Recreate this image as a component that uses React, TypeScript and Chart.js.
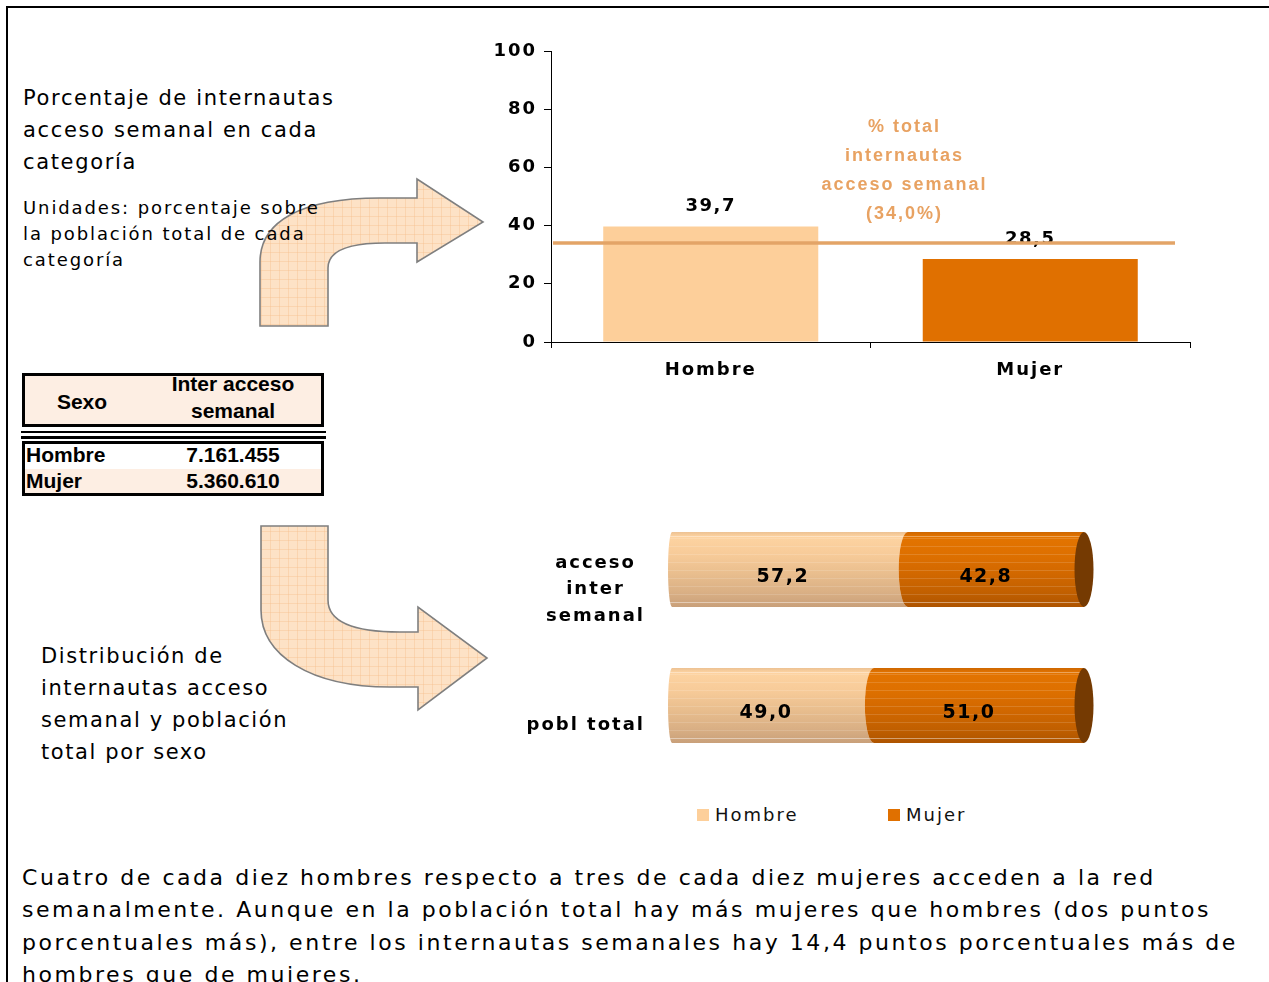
import React, { useEffect, useRef } from 'react';
import { Chart, registerables } from 'chart.js';

Chart.register(...registerables);

// ---------- data ----------
const sexCategories = ['Hombre', 'Mujer'];
const weeklyAccessPct = [39.7, 28.5];
const totalWeeklyPct = 34.0;
const yTicks = [0, 20, 40, 60, 80, 100];

const distCategories = [['acceso', 'inter', 'semanal'], ['pobl total']];
const distHombre = [57.2, 49.0];
const distMujer = [42.8, 51.0];

const tableRows = ['Hombre', 'Mujer'];
const tableValues = ['7.161.455', '5.360.610'];

const annotationLines = ['% total', 'internautas', 'acceso semanal'];

// ---------- styles ----------
const HOMBRE = '#FDCF9A';
const MUJER = '#E07000';
const FONT = '"DejaVu Sans", Verdana, sans-serif';
const ARIAL = '"Liberation Sans", Arial, sans-serif';

const fmt = (v: number) => v.toFixed(1).replace('.', ',');

const spacing = (px: string) => ({
  id: 'letterSpacing',
  beforeUpdate(c: any) { c.ctx.letterSpacing = px; },
  beforeLayout(c: any) { c.ctx.letterSpacing = px; },
  beforeDraw(c: any) { c.ctx.letterSpacing = px; },
});

const topPlugin = {
  id: 'topDecor',
  afterDatasetsDraw(chart: any) {
    const ctx = chart.ctx;
    const meta = chart.getDatasetMeta(0);
    ctx.save();
    ctx.letterSpacing = '1.5px';
    ctx.font = `bold 18px ${FONT}`;
    ctx.fillStyle = '#000';
    ctx.textAlign = 'center';
    ctx.textBaseline = 'middle';
    meta.data.forEach((el: any, i: number) => {
      const { x, y } = el.getProps(['x', 'y'], true);
      ctx.fillText(fmt(weeklyAccessPct[i]), x, y - 20);
    });
    const ys = chart.scales.y.getPixelForValue(totalWeeklyPct);
    const { left, right } = chart.chartArea;
    ctx.strokeStyle = '#E3A467';
    ctx.lineWidth = 3.5;
    ctx.beginPath();
    ctx.moveTo(left + 2, ys);
    ctx.lineTo(right - 15, ys);
    ctx.stroke();
    const xs = chart.scales.x;
    const cx = (xs.getPixelForValue(0) + xs.getPixelForValue(1)) / 2 + 34;
    ctx.font = `bold 18px ${ARIAL}`;
    ctx.letterSpacing = '2px';
    ctx.fillStyle = '#E8A262';
    const lines = [...annotationLines, `(${fmt(totalWeeklyPct)}%)`];
    lines.forEach((t, i) => ctx.fillText(t, cx, ys - 116 + i * 29));
    ctx.restore();
  },
};

const cylinderPlugin = {
  id: 'cylinders',
  beforeDatasetDraw() {
    return false;
  },
  afterDatasetsDraw(chart: any) {
    const ctx = chart.ctx;
    const n = chart.data.datasets.length;
    const stops: Array<Array<[number, string]>> = [
      [[0, '#EDC293'], [0.06, '#FDD3A1'], [0.3, '#F7CB99'], [0.55, '#E9BE8E'], [0.8, '#DAB085'], [1, '#C9A07A']],
      [[0, '#CF6700'], [0.06, '#E37400'], [0.3, '#DE7000'], [0.55, '#D26800'], [0.8, '#C26000'], [1, '#AE5400']],
    ];
    const rxB = 9;
    const rxL = 4;
    for (let d = 0; d < n; d++) {
      const meta = chart.getDatasetMeta(d);
      meta.data.forEach((el: any) => {
        const { x, y, base, height } = el.getProps(['x', 'y', 'base', 'height'], true);
        const top = y - height / 2;
        const bot = y + height / 2;
        const ry = height / 2;
        const x0 = base;
        const x1 = x;
        const last = d === n - 1;
        ctx.save();
        ctx.beginPath();
        ctx.moveTo(x0, top);
        ctx.lineTo(x1, top);
        if (last) {
          ctx.lineTo(x1, bot);
        } else {
          ctx.ellipse(x1, y, rxB, ry, 0, -Math.PI / 2, Math.PI / 2, true);
        }
        ctx.lineTo(x0, bot);
        const rl = d === 0 ? rxL : rxB;
        ctx.ellipse(x0, y, rl, ry, 0, Math.PI / 2, (3 * Math.PI) / 2, false);
        ctx.closePath();
        const g = ctx.createLinearGradient(0, top, 0, bot);
        stops[d].forEach(([o, c]) => g.addColorStop(o, c));
        ctx.fillStyle = g;
        ctx.fill();
        ctx.clip();
        ctx.strokeStyle = 'rgba(255,255,255,0.14)';
        ctx.lineWidth = 1;
        for (let sy = top + 6; sy < bot - 2; sy += 8) {
          ctx.beginPath();
          ctx.moveTo(x0 - 12, Math.round(sy) + 0.5);
          ctx.lineTo(x1 + 12, Math.round(sy) + 0.5);
          ctx.stroke();
        }
        ctx.strokeStyle = 'rgba(255,255,255,0.35)';
        [top + 4, bot - 5].forEach((sy) => {
          ctx.beginPath();
          ctx.moveTo(x0 - 12, Math.round(sy) + 0.5);
          ctx.lineTo(x1 + 12, Math.round(sy) + 0.5);
          ctx.stroke();
        });
        ctx.restore();
        if (last) {
          ctx.save();
          ctx.beginPath();
          ctx.ellipse(x1, y, 9.5, ry, 0, 0, Math.PI * 2);
          ctx.fillStyle = '#753A02';
          ctx.fill();
          ctx.restore();
        }
      });
    }
    // value labels
    ctx.save();
    ctx.letterSpacing = '1.5px';
    ctx.font = `bold 19px ${FONT}`;
    ctx.fillStyle = '#000';
    ctx.textAlign = 'center';
    ctx.textBaseline = 'middle';
    for (let d = 0; d < n; d++) {
      const meta = chart.getDatasetMeta(d);
      const vals = chart.data.datasets[d].data;
      meta.data.forEach((el: any, i: number) => {
        const { x, y, base } = el.getProps(['x', 'y', 'base'], true);
        const dx = d === 0 ? -7 : -10;
        ctx.fillText(fmt(vals[i]), (x + base) / 2 + dx, y + 8);
      });
    }
    ctx.restore();
  },
  afterDraw(chart: any) {
    const ctx = chart.ctx;
    const ysc = chart.scales.y;
    ctx.save();
    ctx.letterSpacing = '2px';
    ctx.font = `bold 18px ${FONT}`;
    ctx.fillStyle = '#000';
    ctx.textAlign = 'center';
    ctx.textBaseline = 'middle';
    const right = chart.chartArea.left - 28;
    distCategories.forEach((lines, i) => {
      const ty = ysc.getPixelForValue(i) + 20;
      const widest = Math.max(...lines.map((l) => ctx.measureText(l).width)) - 2;
      lines.forEach((l, j) => {
        ctx.fillText(l, right - widest / 2, ty + (j - (lines.length - 1) / 2) * 26.5);
      });
    });
    ctx.restore();
  },
};

function TopChart() {
  const ref = useRef<HTMLCanvasElement>(null);
  useEffect(() => {
    const tickFont = { family: FONT, weight: 'bold' as const, size: 18 };
    const chart = new Chart(ref.current as HTMLCanvasElement, {
      type: 'bar',
      data: {
        labels: sexCategories,
        datasets: [
          {
            label: '% internautas acceso semanal',
            data: weeklyAccessPct,
            backgroundColor: [HOMBRE, MUJER],
            barPercentage: 0.673,
            categoryPercentage: 1,
          },
        ],
      },
      options: {
        animation: false,
        responsive: true,
        maintainAspectRatio: false,
        layout: { padding: { left: 0, right: 20, top: 21, bottom: 0 } },
        plugins: { legend: { display: false }, tooltip: { enabled: false } },
        scales: {
          x: {
            grid: { drawOnChartArea: false, tickLength: 6, color: '#000', offset: true },
            border: { color: '#000' },
            ticks: { color: '#000', font: tickFont, padding: 12 },
            afterFit: (s: any) => { s.height = 58; },
          },
          y: {
            min: 0,
            max: 100,
            grid: { drawOnChartArea: false, tickLength: 7, color: '#000' },
            border: { color: '#000' },
            ticks: { color: '#000', font: tickFont, padding: 7 },
            afterBuildTicks: (s: any) => { s.ticks = yTicks.map((v) => ({ value: v })); },
            afterFit: (s: any) => { s.width = 71; },
          },
        },
      } as any,
      plugins: [spacing('2px'), topPlugin],
    });
    return () => chart.destroy();
  }, []);
  return (
    <div style={{ position: 'absolute', left: 480, top: 30, width: 730, height: 370 }}>
      <canvas ref={ref} style={{ display: 'block' }} />
    </div>
  );
}

function BottomChart() {
  const ref = useRef<HTMLCanvasElement>(null);
  useEffect(() => {
    const chart = new Chart(ref.current as HTMLCanvasElement, {
      type: 'bar',
      data: {
        labels: distCategories.map((l) => l.join(' ')),
        datasets: [
          { label: 'Hombre', data: distHombre, backgroundColor: HOMBRE, barPercentage: 0.55, categoryPercentage: 1 },
          { label: 'Mujer', data: distMujer, backgroundColor: MUJER, barPercentage: 0.55, categoryPercentage: 1 },
        ],
      },
      options: {
        animation: false,
        responsive: true,
        maintainAspectRatio: false,
        indexAxis: 'y',
        layout: { padding: { left: 0, right: 36, top: 11.5, bottom: 16.5 } },
        plugins: { legend: { display: false }, tooltip: { enabled: false } },
        scales: {
          x: { stacked: true, min: 0, max: 100, display: false },
          y: {
            stacked: true,
            grid: { display: false, drawTicks: false },
            border: { display: false },
            ticks: { display: false },
            afterFit: (s: any) => { s.width = 172; },
          },
        },
      } as any,
      plugins: [spacing('2px'), cylinderPlugin],
    });
    return () => chart.destroy();
  }, []);
  return (
    <div style={{ position: 'absolute', left: 500, top: 490, width: 620, height: 300 }}>
      <canvas ref={ref} style={{ display: 'block' }} />
    </div>
  );
}

const upperArrow =
  'M260 326 L260 262 C260 222 300 198 380 198 L417 198 L417 179 L483 222 L417 262 L417 243 L385 243 C345 243 328 252 328 268 L328 326 Z';
const lowerArrow =
  'M261 526 L328 526 L328 600 C328 622 355 632 400 632 L418 632 L418 607 L487 658 L418 710 L418 687 L390 687 C310 687 261 655 261 610 Z';

const abs = (s: React.CSSProperties): React.CSSProperties => ({ position: 'absolute', ...s });

export default function App() {
  const tableFont: React.CSSProperties = { fontFamily: ARIAL, fontWeight: 'bold', fontSize: 21, lineHeight: '24px', color: '#000', whiteSpace: 'nowrap' };
  const centered = (x: number, y: number): React.CSSProperties => abs({ left: x, top: y, transform: 'translate(-50%, -50%)' });
  return (
    <div style={abs({ left: 0, top: 0, width: 1269, height: 982, overflow: 'hidden', background: '#fff', fontFamily: FONT, color: '#000' })}>
      <div style={abs({ left: 6, top: 6, width: 1400, height: 1100, border: '2px solid #000' })} />

      <svg width={1269} height={982} style={abs({ left: 0, top: 0 })}>
        <defs>
          <pattern id="gridFill" width="9" height="9" patternUnits="userSpaceOnUse">
            <rect width="9" height="9" fill="#FDE2C6" />
            <path d="M9 0H0V9" fill="none" stroke="#F6BE8C" strokeWidth="0.8" />
          </pattern>
        </defs>
        <path d={upperArrow} fill="url(#gridFill)" stroke="#7F7F7F" strokeWidth="1.6" />
        <path d={lowerArrow} fill="url(#gridFill)" stroke="#7F7F7F" strokeWidth="1.6" />
      </svg>

      <div style={abs({ left: 23, top: 82, fontSize: 21, lineHeight: '32px', letterSpacing: '1.65px', whiteSpace: 'nowrap' })}>
        Porcentaje de internautas<br />acceso semanal en cada<br />categoría
      </div>
      <div style={abs({ left: 23, top: 195, fontSize: 18, lineHeight: '26px', letterSpacing: '1.9px', whiteSpace: 'nowrap' })}>
        Unidades: porcentaje sobre<br />la población total de cada<br />categoría
      </div>
      <div style={abs({ left: 41, top: 640, fontSize: 21, lineHeight: '32px', letterSpacing: '1.6px', whiteSpace: 'nowrap' })}>
        Distribución de<br />internautas acceso<br />semanal y población<br />total por sexo
      </div>
      <div style={abs({ left: 22, top: 862, fontSize: 22, lineHeight: '32.4px', letterSpacing: '2.55px', whiteSpace: 'nowrap' })}>
        Cuatro de cada diez hombres respecto a tres de cada diez mujeres acceden a la red<br />
        semanalmente. Aunque en la población total hay más mujeres que hombres (dos puntos<br />
        porcentuales más), entre los internautas semanales hay 14,4 puntos porcentuales más de<br />
        hombres que de mujeres.
      </div>

      {/* table */}
      <div style={abs({ left: 22, top: 373, width: 302, height: 54, boxSizing: 'border-box', border: '3px solid #000', background: '#FDEEE3' })} />
      <div style={{ ...tableFont, ...centered(82, 402) }}>Sexo</div>
      <div style={{ ...tableFont, ...centered(233, 384) }}>Inter acceso</div>
      <div style={{ ...tableFont, ...centered(233, 411) }}>semanal</div>
      <div style={abs({ left: 21, top: 430.5, width: 305, height: 2.8, background: '#000' })} />
      <div style={abs({ left: 21, top: 435.8, width: 305, height: 2.8, background: '#000' })} />
      <div style={abs({ left: 22, top: 441, width: 302, height: 55, boxSizing: 'border-box', border: '3px solid #000', background: '#fff', overflow: 'hidden' })}>
        <div style={abs({ left: 0, top: 25, width: 296, height: 30, background: '#FDEEE3' })} />
      </div>
      {tableRows.map((r, i) => (
        <React.Fragment key={r}>
          <div style={{ ...tableFont, ...abs({ left: 26, top: 455 + i * 26, transform: 'translateY(-50%)' }) }}>{r}</div>
          <div style={{ ...tableFont, ...centered(233, 455 + i * 26) }}>{tableValues[i]}</div>
        </React.Fragment>
      ))}

      <TopChart />
      <BottomChart />

      {/* legend */}
      <div style={abs({ left: 697, top: 809, width: 12, height: 12, background: HOMBRE })} />
      <div style={abs({ left: 715, top: 805, fontSize: 18, lineHeight: '20px', letterSpacing: '2px', color: '#111' })}>Hombre</div>
      <div style={abs({ left: 888, top: 809, width: 12, height: 12, background: MUJER })} />
      <div style={abs({ left: 906, top: 805, fontSize: 18, lineHeight: '20px', letterSpacing: '2px', color: '#111' })}>Mujer</div>
    </div>
  );
}
